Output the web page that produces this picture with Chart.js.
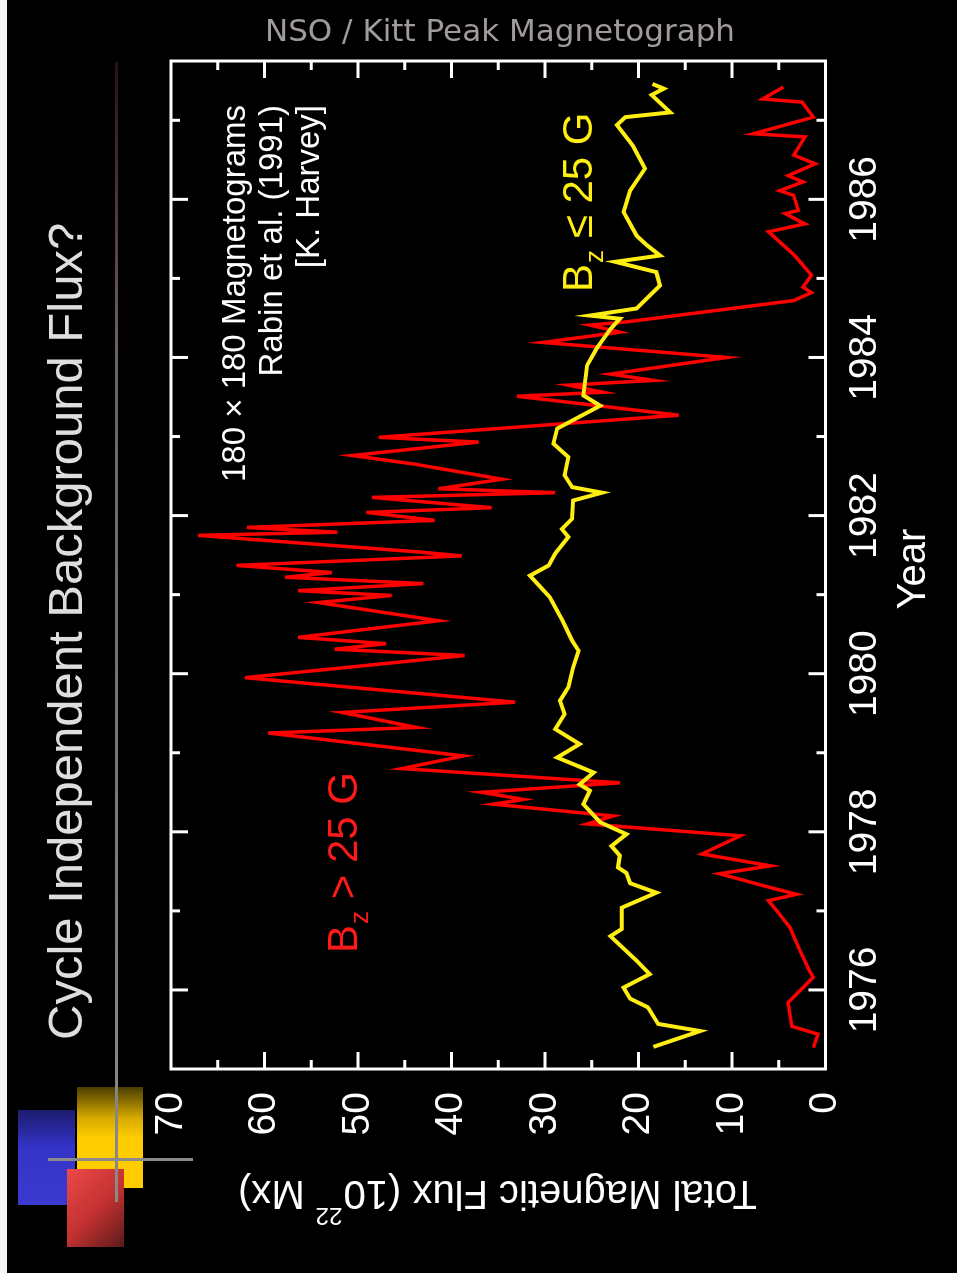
<!DOCTYPE html>
<html><head><meta charset="utf-8">
<script src="https://cdn.jsdelivr.net/npm/chart.js@4.4.0/dist/chart.umd.min.js"></script>
<style>
html,body{margin:0;padding:0;background:#000;width:957px;height:1273px;overflow:hidden;}
#page{position:absolute;left:0;top:0;width:957px;height:1273px;background:#000;overflow:hidden;}
#slide{position:absolute;left:0;top:0;width:1273px;height:957px;transform-origin:0 0;transform:translate(0px,1273px) rotate(-90deg);}
#c{display:block;}
.abs{position:absolute;}
#nso{left:265px;top:12px;font-family:"DejaVu Sans",sans-serif;font-size:31px;color:#a09a9a;white-space:nowrap;}
</style></head>
<body><div id="page">
<div id="slide"><canvas id="c" width="1273" height="957"></canvas></div>
<div class="abs" style="left:0;top:0;width:7px;height:1273px;background:#f4f4f4;"></div>
<div class="abs" style="left:18px;top:1110px;width:57px;height:95px;background:linear-gradient(to bottom,#1c1c70,#3434c8 40%,#3a3ad0);"></div>
<div class="abs" style="left:77px;top:1087px;width:66px;height:101px;background:linear-gradient(to bottom,#4a3c00,#d4a800 30%,#ffcc00 50%,#ffcc00);"></div>
<div class="abs" style="left:67px;top:1169px;width:57px;height:78px;background:linear-gradient(135deg,#ee4848,#c03030 55%,#5a1a1a);"></div>
<div class="abs" style="left:115px;top:62px;width:3px;height:1140px;background:linear-gradient(to bottom,#2a1010,#6a6060 25%,#8a8a8a);"></div>
<div class="abs" style="left:48px;top:1158px;width:145px;height:3px;background:#8a8a8a;"></div>
<div id="nso" class="abs">NSO / Kitt Peak Magnetograph</div>
</div>
<script>
// ---- data (years, flux in 10^22 Mx) ----
const yearTicks = [1976,1978,1980,1982,1984,1986];
const fluxTicks = [0,10,20,30,40,50,60,70];

const strongYears = [1975.27,1975.44,1975.54,1975.84,1976.16,1976.24,1976.49,1976.79,1977.00,1977.13,1977.21,1977.32,1977.47,1977.57,1977.72,1977.95,1978.10,1978.20,1978.35,1978.41,1978.50,1978.62,1978.80,1978.96,1979.25,1979.32,1979.51,1979.64,1979.95,1980.23,1980.31,1980.38,1980.46,1980.67,1980.90,1980.99,1981.05,1981.14,1981.22,1981.28,1981.37,1981.49,1981.54,1981.75,1981.79,1981.85,1981.94,1982.04,1982.10,1982.23,1982.29,1982.34,1982.46,1982.65,1982.76,1982.93,1982.99,1983.27,1983.51,1983.56,1983.65,1983.71,1983.79,1984.00,1984.19,1984.32,1984.41,1984.45,1984.72,1984.82,1984.89,1985.04,1985.29,1985.59,1985.69,1985.82,1985.86,1986.05,1986.11,1986.22,1986.30,1986.45,1986.56,1986.79,1986.83,1987.04,1987.23,1987.27,1987.42];
const strongFlux  = [1.3,0.8,3.6,4.0,1.3,1.7,2.7,3.8,5.2,6.1,3.1,6.7,11.3,5.9,13.2,9.1,25.5,22.7,35.5,32.3,36.8,22.0,45.3,38.7,59.6,43.7,51.7,33.2,62.1,38.6,52.5,47.0,56.4,41.4,54.2,46.4,56.4,43.0,57.8,52.8,63.0,38.9,43.5,67.1,52.2,61.9,41.8,49.1,35.7,48.5,28.9,41.4,34.6,43.9,50.6,37.1,47.8,15.7,33.0,23.8,27.5,18.4,23.0,10.6,30.2,22.0,25.2,21.3,3.4,1.5,2.4,1.5,3.3,6.1,2.2,4.3,2.9,3.4,4.9,2.4,4.0,1.1,3.4,2.2,7.7,1.3,2.5,6.7,4.5];

const weakYears = [1975.28,1975.48,1975.57,1975.78,1975.89,1976.03,1976.20,1976.37,1976.68,1976.77,1977.04,1977.23,1977.35,1977.48,1977.55,1977.70,1977.82,1977.97,1978.12,1978.35,1978.52,1978.60,1978.75,1978.94,1979.11,1979.30,1979.49,1979.66,1979.83,1980.08,1980.29,1980.42,1980.69,1980.84,1980.97,1981.24,1981.37,1981.52,1981.73,1981.83,1981.96,1982.19,1982.29,1982.36,1982.51,1982.74,1982.91,1983.10,1983.39,1983.52,1983.90,1984.11,1984.36,1984.49,1984.53,1984.62,1984.91,1985.08,1985.21,1985.29,1985.42,1985.54,1985.84,1986.11,1986.39,1986.68,1986.94,1987.04,1987.10,1987.32,1987.40,1987.46];
const weakFlux  = [18.4,13.4,17.9,19.0,20.9,21.6,18.8,20.2,23.0,21.8,21.8,18.1,20.9,21.3,22.2,22.0,22.9,21.3,24.1,25.9,25.2,26.3,24.8,28.7,26.3,28.9,27.9,28.4,27.5,27.0,26.4,27.1,28.2,28.9,29.5,31.6,29.6,28.9,27.5,28.2,27.1,27.0,23.9,27.1,27.9,27.5,29.1,28.7,24.1,25.9,25.5,24.5,23.0,22.0,25.2,20.2,17.7,18.1,22.5,17.7,19.1,20.2,21.6,20.9,19.3,20.6,22.3,21.4,16.6,18.6,17.3,18.5];

const FONT = "'Liberation Sans', Arial, Helvetica, sans-serif";

const frameTicks = {
  id: 'frameTicks',
  afterDatasetsDraw(chart) {
    const {ctx, chartArea: a, scales: {x, y}} = chart;
    ctx.save();
    ctx.strokeStyle = '#ffffff';
    ctx.lineWidth = 3;
    ctx.beginPath();
    for (let yr = 1976; yr <= 1987; yr++) {
      const px = x.getPixelForValue(yr);
      const len = yr % 2 === 0 ? 17 : 9;
      ctx.moveTo(px, a.bottom); ctx.lineTo(px, a.bottom - len);
      ctx.moveTo(px, a.top); ctx.lineTo(px, a.top + len);
    }
    for (let f = 5; f < 70; f += 5) {
      const py = y.getPixelForValue(f);
      const len = f % 10 === 0 ? 17 : 9;
      ctx.moveTo(a.left, py); ctx.lineTo(a.left + len, py);
      ctx.moveTo(a.right, py); ctx.lineTo(a.right - len, py);
    }
    ctx.stroke();
    ctx.strokeRect(a.left, a.top, a.right - a.left, a.bottom - a.top);
    ctx.restore();
  },
  afterDraw(chart) {
    const ctx = chart.ctx;
    ctx.save();
    // main title
    ctx.fillStyle = '#dedede';
    ctx.font = '49px ' + FONT;
    ctx.textBaseline = 'alphabetic';
    ctx.textAlign = 'left';
    ctx.fillText('Cycle Independent Background Flux?', 233, 82);
    // annotation
    ctx.fillStyle = '#ffffff';
    ctx.font = '33px ' + FONT;
    ctx.textAlign = 'right';
    ctx.fillText('180 \u00d7 180 Magnetograms', 1168, 245);
    ctx.fillText('Rabin et al. (1991)', 1168, 282);
    ctx.fillText('[K. Harvey]', 1168, 319);
    // year title
    ctx.textAlign = 'center';
    ctx.font = '40px ' + FONT;
    ctx.fillText('Year', 704, 925);
    // series labels
    const lab = (color, x0, base, rel) => {
      ctx.fillStyle = color;
      ctx.textAlign = 'left';
      ctx.font = '42px ' + FONT;
      let xx = x0;
      ctx.fillText('B', xx, base); xx += ctx.measureText('B').width;
      ctx.font = '26px ' + FONT;
      ctx.fillText('z', xx + 1, base + 11); xx += ctx.measureText('z').width + 1;
      ctx.font = '42px ' + FONT;
      ctx.fillText(' ' + rel + ' 25 G', xx, base);
    };
    lab('#ff1a1a', 320, 357, '>');
    lab('#ffee11', 981, 592, '\u2264');
    // y-axis title (rotated)
    ctx.save();
    ctx.translate(92, 498);
    ctx.rotate(-Math.PI / 2);
    ctx.fillStyle = '#ffffff';
    const p1 = 'Total Magnetic Flux (10', p2 = '22', p3 = ' Mx)';
    ctx.font = '40px ' + FONT;
    const w1 = ctx.measureText(p1).width, w3 = ctx.measureText(p3).width;
    ctx.font = '24px ' + FONT;
    const w2 = ctx.measureText(p2).width;
    let sx = -(w1 + w2 + w3) / 2;
    ctx.textAlign = 'left';
    ctx.font = '40px ' + FONT;
    ctx.fillText(p1, sx, 0); sx += w1;
    ctx.font = '24px ' + FONT;
    ctx.fillText(p2, sx + 1, -27); sx += w2 + 1;
    ctx.font = '40px ' + FONT;
    ctx.fillText(p3, sx, 0);
    ctx.restore();
    ctx.restore();
  }
};

new Chart(document.getElementById('c'), {
  type: 'line',
  data: {
    datasets: [
      {
        label: 'Bz <= 25 G',
        data: weakYears.map((t, i) => ({x: t, y: weakFlux[i]})),
        borderColor: '#ffee11', borderWidth: 4, pointRadius: 0, tension: 0, fill: false
      },
      {
        label: 'Bz > 25 G',
        data: strongYears.map((t, i) => ({x: t, y: strongFlux[i]})),
        borderColor: '#ff0000', borderWidth: 3.5, pointRadius: 0, tension: 0, fill: false
      }
    ]
  },
  options: {
    responsive: false,
    animation: false,
    events: [],
    layout: {padding: {top: 171, right: 61, left: 0, bottom: 0}},
    plugins: {legend: {display: false}, tooltip: {enabled: false}, title: {display: false}},
    scales: {
      x: {
        type: 'linear', position: 'bottom', min: 1975, max: 1987.75,
        grid: {display: false}, border: {display: false},
        afterBuildTicks: s => { s.ticks = yearTicks.map(v => ({value: v})); },
        afterFit: s => { s.height = 131.5; },
        ticks: {color: '#ffffff', padding: 8, maxRotation: 0, font: {family: FONT, size: 39}, callback: v => String(v)}
      },
      y: {
        type: 'linear', position: 'left', min: 0, max: 70,
        grid: {display: false}, border: {display: false},
        afterBuildTicks: s => { s.ticks = fluxTicks.map(v => ({value: v})); },
        afterFit: s => { s.width = 204; },
        ticks: {color: '#ffffff', padding: 15, font: {family: FONT, size: 39}, callback: v => String(v)}
      }
    }
  },
  plugins: [frameTicks]
});
</script>
</body></html>
